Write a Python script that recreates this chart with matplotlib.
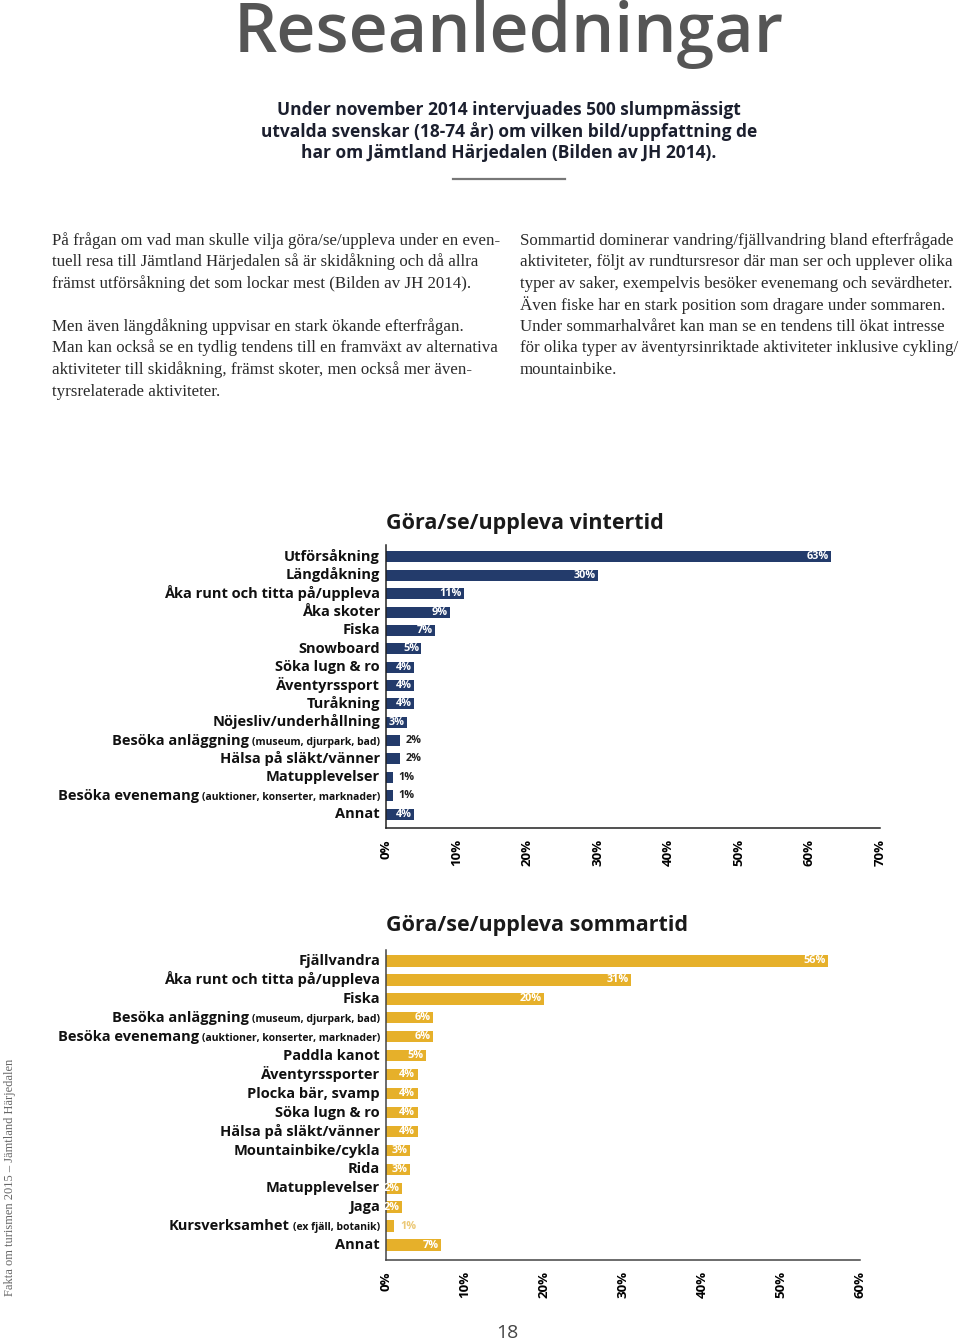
import matplotlib
matplotlib.use("Agg")
import matplotlib.pyplot as plt


# ========================
# Data
# ========================
winter_labels = [
    "Utförsåkning", "Längdåkning", "Åka runt och titta på/uppleva", "Åka skoter",
    "Fiska", "Snowboard", "Söka lugn & ro", "Äventyrssport", "Turåkning",
    "Nöjesliv/underhållning", "Besöka anläggning", "Hälsa på släkt/vänner",
    "Matupplevelser", "Besöka evenemang", "Annat",
]
winter_notes = [
    "", "", "", "", "", "", "", "", "", "",
    "(museum, djurpark, bad)", "", "", "(auktioner, konserter, marknader)", "",
]
winter_values = [63, 30, 11, 9, 7, 5, 4, 4, 4, 3, 2, 2, 1, 1, 4]

summer_labels = [
    "Fjällvandra", "Åka runt och titta på/uppleva", "Fiska", "Besöka anläggning",
    "Besöka evenemang", "Paddla kanot", "Äventyrssporter", "Plocka bär, svamp",
    "Söka lugn & ro", "Hälsa på släkt/vänner", "Mountainbike/cykla", "Rida",
    "Matupplevelser", "Jaga", "Kursverksamhet", "Annat",
]
summer_notes = [
    "", "", "", "(museum, djurpark, bad)", "(auktioner, konserter, marknader)",
    "", "", "", "", "", "", "", "", "", "(ex fjäll, botanik)", "",
]
summer_values = [56, 31, 20, 6, 6, 5, 4, 4, 4, 4, 3, 3, 2, 2, 1, 7]

winter_ticks = [0, 10, 20, 30, 40, 50, 60, 70]
summer_ticks = [0, 10, 20, 30, 40, 50, 60]

left_column = [
    "På frågan om vad man skulle vilja göra/se/uppleva under en even-",
    "tuell resa till Jämtland Härjedalen så är skidåkning och då allra",
    "främst utförsåkning det som lockar mest (Bilden av JH 2014).",
    "",
    "Men även längdåkning uppvisar en stark ökande efterfrågan.",
    "Man kan också se en tydlig tendens till en framväxt av alternativa",
    "aktiviteter till skidåkning, främst skoter, men också mer även-",
    "tyrsrelaterade aktiviteter.",
]
right_column = [
    "Sommartid dominerar vandring/fjällvandring bland efterfrågade",
    "aktiviteter, följt av rundtursresor där man ser och upplever olika",
    "typer av saker, exempelvis besöker evenemang och sevärdheter.",
    "Även fiske har en stark position som dragare under sommaren.",
    "Under sommarhalvåret kan man se en tendens till ökat intresse",
    "för olika typer av äventyrsinriktade aktiviteter inklusive cykling/",
    "mountainbike.",
]
intro_lines = [
    "Under november 2014 intervjuades 500 slumpmässigt",
    "utvalda svenskar (18-74 år) om vilken bild/uppfattning de",
    "har om Jämtland Härjedalen (Bilden av JH 2014).",
]

W, H = 960, 1342
SANS = "Open Sans"
SERIF = "Liberation Serif"
NAVY = "#233b6b"
GOLD = "#e6b02a"


def fx(x):
    return x / W


def fy(y):
    return 1 - y / H


def px_box(x0, y0, x1, y1):
    return [x0 / W, 1 - y1 / H, (x1 - x0) / W, (y1 - y0) / H]


# ========================
# Bar chart
# ========================
def bar_chart(fig, box, labels, notes, values, ticks, color, inside_min,
              outside_color, title, pad_top, pad_bottom, spine_color, title_gap):
    ax = fig.add_axes(px_box(*box))
    n = len(values)
    pos = list(range(n))
    ax.barh(pos, values, height=0.6, color=color)
    ax.set_xlim(ticks[0], ticks[-1])
    ax.set_ylim(n - 1 + pad_bottom, -pad_top)

    for sp in ["top", "right"]:
        ax.spines[sp].set_visible(False)
    for sp in ["left", "bottom"]:
        ax.spines[sp].set_color(spine_color)
        ax.spines[sp].set_linewidth(1.1)

    ax.set_yticks([])
    ax.set_xticks(ticks)
    ax.set_xticklabels([f"{t}%" for t in ticks], rotation=90, fontsize=9.5,
                       fontweight="bold", family=SANS, va="top")
    ax.tick_params(axis="x", length=0, pad=8)

    # value labels
    for i, v in enumerate(values):
        if v >= inside_min:
            ax.text(v - 0.3, i, f"{v}%", ha="right", va="center", color="white",
                    fontsize=7.8, fontweight="bold", family=SANS)
        else:
            ax.text(v + 0.8, i, f"{v}%", ha="left", va="center", color=outside_color,
                    fontsize=7.8, fontweight="bold", family=SANS)

    # category labels (bold name + small note)
    renderer = fig.canvas.get_renderer()
    bbox = ax.get_window_extent(renderer)
    ax_w, ax_h = bbox.width, bbox.height
    trans = ax.get_yaxis_transform()
    x0 = -6 / ax_w
    for i, (lab, note) in enumerate(zip(labels, notes)):
        x = x0
        if note:
            t = ax.text(x, i + 0.22, note, ha="right", va="baseline", transform=trans,
                        fontsize=7.5, fontweight="bold", family=SANS, color="#111111")
            w = t.get_window_extent(renderer).width
            x = x0 - (w + 3) / ax_w
        ax.text(x, i + 0.22, lab, ha="right", va="baseline", transform=trans,
                fontsize=10.5, fontweight="bold", family=SANS, color="#111111")

    ax.text(0, 1 + title_gap / ax_h, title, transform=ax.transAxes, ha="left",
            va="center", fontsize=15.5, fontweight="bold", family=SANS, color="#1a1a1a")
    return ax


# ========================
# MAIN
# ========================
def main():
    fig = plt.figure(figsize=(W / 100, H / 100), dpi=100)
    fig.patch.set_facecolor("white")

    # header
    fig.text(fx(509), fy(52), "Reseanledningar", ha="center", va="baseline",
             fontsize=49, fontweight="semibold", family=SANS, color="#555555")
    for k, line in enumerate(intro_lines):
        fig.text(fx(509), fy(110 + k * 21.5), line, ha="center", va="center",
                 fontsize=12.5, fontweight="bold", family=SANS, color="#1b1f2e")
    fig.add_artist(plt.Line2D([fx(453), fx(565)], [fy(179), fy(179)],
                              color="#777777", lw=1.6))

    # body text
    for k, line in enumerate(left_column):
        fig.text(fx(52), fy(245 + k * 21.5), line, ha="left", va="baseline",
                 fontsize=12.2, family=SERIF, color="#2a2a2a")
    for k, line in enumerate(right_column):
        fig.text(fx(520), fy(245 + k * 21.5), line, ha="left", va="baseline",
                 fontsize=12.2, family=SERIF, color="#2a2a2a")

    # charts
    bar_chart(fig, (386, 545, 880, 828), winter_labels, winter_notes, winter_values,
              winter_ticks, NAVY, 3, "#222222", "Göra/se/uppleva vintertid",
              0.65, 0.76, "#222222", 22)
    bar_chart(fig, (386, 950, 860, 1260), summer_labels, summer_notes, summer_values,
              summer_ticks, GOLD, 2, "#ecc978", "Göra/se/uppleva sommartid",
              0.58, 0.79, "#444444", 25)

    # footer
    fig.text(fx(507), fy(1333), "18", ha="center", va="center", fontsize=14,
             family=SANS, color="#444444")
    fig.text(fx(10), fy(1177), "Fakta om turismen 2015 – Jämtland Härjedalen",
             rotation=90, ha="center", va="center", fontsize=9, family=SERIF,
             color="#666666")

    fig.savefig("out.png", dpi=100)
    plt.close(fig)


if __name__ == "__main__":
    main()
